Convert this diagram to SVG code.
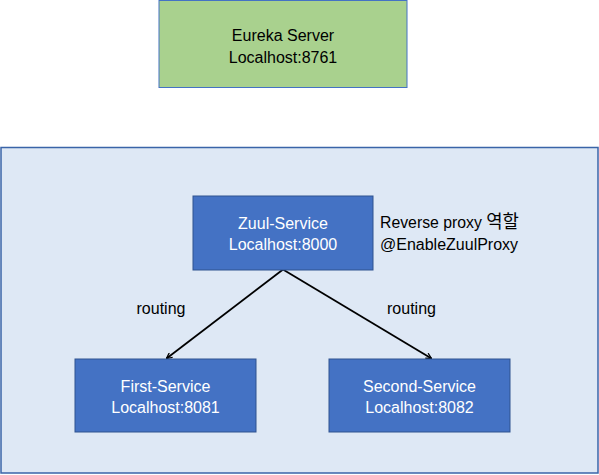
<svg xmlns="http://www.w3.org/2000/svg" width="599" height="475" viewBox="0 0 599 475">
<defs>
<style>
.t{font-family:"Liberation Sans","Noto Sans CJK KR",sans-serif;font-size:16px;}
.w{fill:#ffffff;}
.k{fill:#000000;}
.svc{fill:#4472c4;stroke:#2f528f;stroke-width:1;}
.edge{stroke:#000000;stroke-width:1.8;fill:none;marker-end:url(#arr);}
</style>
<marker id="arr" viewBox="0 0 10 10" refX="9" refY="5" markerWidth="7" markerHeight="7" orient="auto" markerUnits="userSpaceOnUse">
<path d="M1,1 L9,5 L1,9" fill="none" stroke="#000000" stroke-width="1.8"/>
</marker>
</defs>
<rect width="599" height="475" fill="#ffffff"/>
<g id="container">
<rect x="1" y="147.5" width="597" height="325.5" fill="#dee8f5" stroke="#3a64a8" stroke-width="1.5"/>
</g>
<g id="eureka">
<rect x="159" y="0.5" width="248" height="87" fill="#a9d18e" stroke="#4472c4" stroke-width="1"/>
<text class="t k" x="283" y="41" text-anchor="middle">Eureka Server</text>
<text class="t k" x="283" y="63" text-anchor="middle">Localhost:8761</text>
</g>
<g id="connectors">
<line class="edge" x1="283" y1="269.5" x2="166.5" y2="358.5"/>
<line class="edge" x1="283" y1="269.5" x2="431.5" y2="358.5"/>
<text class="t k" x="161" y="314" text-anchor="middle">routing</text>
<text class="t k" x="411.5" y="314" text-anchor="middle">routing</text>
</g>
<g id="zuul">
<rect class="svc" x="193" y="196" width="180" height="74"/>
<text class="t w" x="283" y="229" text-anchor="middle">Zuul-Service</text>
<text class="t w" x="283" y="250" text-anchor="middle">Localhost:8000</text>
</g>
<g id="zuul-note">
<text class="t k" x="380" y="228" textLength="139" lengthAdjust="spacingAndGlyphs">Reverse proxy <tspan font-size="18">역할</tspan></text>
<text class="t k" x="380" y="250">@EnableZuulProxy</text>
</g>
<g id="first">
<rect class="svc" x="75" y="359" width="181" height="73"/>
<text class="t w" x="165.5" y="392" text-anchor="middle">First-Service</text>
<text class="t w" x="165.5" y="413" text-anchor="middle">Localhost:8081</text>
</g>
<g id="second">
<rect class="svc" x="329" y="359" width="181" height="73"/>
<text class="t w" x="419.5" y="392" text-anchor="middle">Second-Service</text>
<text class="t w" x="419.5" y="413" text-anchor="middle">Localhost:8082</text>
</g>
</svg>
